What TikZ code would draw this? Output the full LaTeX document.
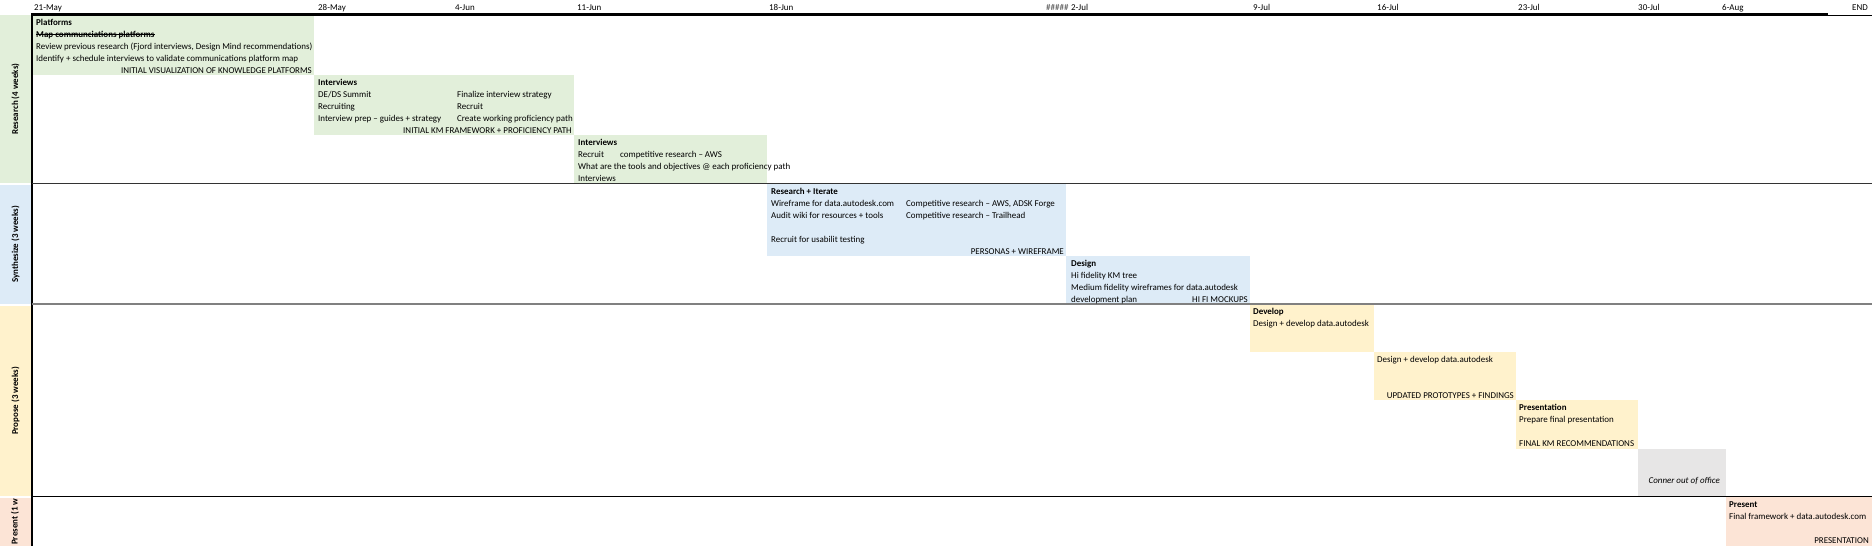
\documentclass[tikz,border=0pt]{standalone}
\usepackage{fontspec}
\setmainfont{Carlito}
\usepackage{xcolor}
\usepackage{tikz}
\usetikzlibrary{calc}
\usetikzlibrary{positioning}
\definecolor{resgreen}{HTML}{E2EFDA}
\definecolor{synblue}{HTML}{DDEBF7}
\definecolor{propyellow}{HTML}{FFF2CC}
\definecolor{presred}{HTML}{FCE4D6}
\definecolor{oofgray}{HTML}{E7E6E6}
\newcommand{\cellfont}{\fontsize{8.95}{10}\selectfont}
\begin{document}
\begin{tikzpicture}[x=1pt,y=-1pt,font=\cellfont]
 	\tikzstyle{task}=[anchor=north west,inner sep=0pt,outer sep=0pt]
 	\tikzstyle{lbl}=[inner sep=0pt,anchor=base west]
 	\tikzstyle{rlbl}=[inner sep=0pt,anchor=base east]
 	\tikzstyle{head}=[lbl,font=\cellfont\bfseries]
 	\tikzstyle{side}=[inner sep=0pt,rotate=90,font=\cellfont\bfseries]
 	\useasboundingbox (0,0) rectangle (1872,546);
 	% phase bands on the left
 	\node[task,fill=resgreen,minimum width=31,minimum height=168] (bres) at (0,15) {};
 	\node[task,fill=synblue,minimum width=31,minimum height=119] (bsyn) at (0,185) {};
 	\node[task,fill=propyellow,minimum width=31,minimum height=190] (bpro) at (0,306) {};
 	\node[task,fill=presred,minimum width=31,minimum height=49] (bpre) at (0,498) {};
 	\node[side] (lres) at (bres.center) {Research (4 weeks)};
 	\node[side] (lsyn) at (bsyn.center) {Synthesize (3 weeks)};
 	\node[side] (lpro) at (bpro.center) {Propose (3 weeks)};
 	\begin{scope}
 		\clip (0,498) rectangle (31,546);
 		\node[side,anchor=west] (lpre) at (15,545) {Present (1 week)};
 	\end{scope}
 	% task blocks
 	\node[task,fill=resgreen,minimum width=282,minimum height=60] (plat) at (32,15) {};
 	\node[task,fill=resgreen,minimum width=260,minimum height=60] (intA) at (314,75) {};
 	\node[task,fill=resgreen,minimum width=193,minimum height=48] (intB) at (574,135) {};
 	\node[task,fill=synblue,minimum width=299,minimum height=72] (resit) at (767,184) {};
 	\node[task,fill=synblue,minimum width=184,minimum height=47] (dsgn) at (1066,256) {};
 	\node[task,fill=propyellow,minimum width=124,minimum height=47] (devA) at (1250,305) {};
 	\node[task,fill=propyellow,minimum width=142,minimum height=48] (devB) at (1374,352) {};
 	\node[task,fill=propyellow,minimum width=122,minimum height=49] (prsn) at (1516,400) {};
 	\node[task,fill=oofgray,minimum width=88,minimum height=47] (oof) at (1638,449) {};
 	\node[task,fill=presred,minimum width=146,minimum height=49] (pres) at (1726,497) {};
 	% grid lines
 	\draw[line width=3pt] (32,14.5) -- (1828,14.5);
 	\draw[line width=1pt] (1828,15.5) -- (1872,15.5);
 	\draw[line width=1.3pt] (32,13) -- (32,546);
 	\draw[line width=1.3pt,black!80] (32,183.6) -- (1872,183.6);
 	\draw[line width=2.4pt,black!50] (32,304) -- (1872,304);
 	\draw[line width=1.4pt] (32,496.6) -- (1872,496.6);
 	% dates
 	\node[lbl] (d1) at (34,10) {21-May};
 	\node[lbl] (d2) at (318,10) {28-May};
 	\node[lbl] (d3) at (455,10) {4-Jun};
 	\node[lbl] (d4) at (577,10) {11-Jun};
 	\node[lbl] (d5) at (769,10) {18-Jun};
 	\node[lbl,text=black!70] (d6) at (1046,10) {\#\#\#\#\#};
 	\node[lbl] (d7) at (1071,10) {2-Jul};
 	\node[lbl] (d8) at (1253,10) {9-Jul};
 	\node[lbl] (d9) at (1377,10) {16-Jul};
 	\node[lbl] (d10) at (1518,10) {23-Jul};
 	\node[lbl] (d11) at (1638,10) {30-Jul};
 	\node[lbl] (d12) at (1722,10) {6-Aug};
 	\node[lbl] (d13) at (1852,10) {END};
 	% research
 	\node[head] (plat1) at (36,25) {Platforms};
 	\node[head] (plat2) at (36,37) {Map communciations platforms};
 	\draw[line width=0.6pt] ($(plat2.base west)+(0,-2.7)$) -- ($(plat2.base east)+(0,-2.7)$);
 	\node[lbl] (plat3) at (36,49) {Review previous research (Fjord interviews, Design Mind recommendations)};
 	\node[lbl] (plat4) at (36,61) {Identify + schedule interviews to validate communications platform map};
 	\node[rlbl] (plat5) at (312,73) {INITIAL VISUALIZATION OF KNOWLEDGE PLATFORMS};
 	\node[head] (inta1) at (318,85) {Interviews};
 	\node[lbl] (inta2) at (318,97) {DE/DS Summit};
 	\node[lbl] (inta3) at (457,97) {Finalize interview strategy};
 	\node[lbl] (inta4) at (318,109) {Recruiting};
 	\node[lbl] (inta5) at (457,109) {Recruit};
 	\node[lbl] (inta6) at (318,121) {Interview prep – guides + strategy};
 	\node[lbl] (inta7) at (457,121) {Create working proficiency path};
 	\node[rlbl] (inta8) at (572,133) {INITIAL KM FRAMEWORK + PROFICIENCY PATH};
 	\node[head] (intb1) at (578,145) {Interviews};
 	\node[lbl] (intb2) at (578,157) {Recruit};
 	\node[lbl] (intb3) at (620,157) {competitive research – AWS};
 	\node[lbl] (intb4) at (578,169) {What are the tools and objectives @ each proficiency path};
 	\node[lbl] (intb5) at (578,181) {Interviews};
 	% synthesize
 	\node[head] (resit1) at (771,194) {Research + Iterate};
 	\node[lbl] (resit2) at (771,206) {Wireframe for data.autodesk.com};
 	\node[lbl] (resit3) at (906,206) {Competitive research – AWS, ADSK Forge};
 	\node[lbl] (resit4) at (771,218) {Audit wiki for resources + tools};
 	\node[lbl] (resit5) at (906,218) {Competitive research – Trailhead};
 	\node[lbl] (resit6) at (771,242) {Recruit for usabilit testing};
 	\node[rlbl] (resit7) at (1064,254) {PERSONAS + WIREFRAME};
 	\node[head] (dsgn1) at (1071,266) {Design};
 	\node[lbl] (dsgn2) at (1071,278) {Hi fidelity KM tree};
 	\node[lbl] (dsgn3) at (1071,290) {Medium fidelity wireframes for data.autodesk};
 	\node[lbl] (dsgn4) at (1071,302) {development plan};
 	\node[rlbl] (dsgn5) at (1248,302) {HI FI MOCKUPS};
 	% propose
 	\node[head] (deva1) at (1253,314) {Develop};
 	\node[lbl] (deva2) at (1253,326) {Design + develop data.autodesk};
 	\node[lbl] (devb1) at (1377,362) {Design + develop data.autodesk};
 	\node[rlbl] (devb2) at (1514,398) {UPDATED PROTOTYPES + FINDINGS};
 	\node[head] (prsn1) at (1519,410) {Presentation};
 	\node[lbl] (prsn2) at (1519,422) {Prepare final presentation};
 	\node[lbl] (prsn3) at (1519,446) {FINAL KM RECOMMENDATIONS};
 	\node[rlbl,font=\cellfont\itshape] (oof1) at (1720,483) {Conner out of office};
 	% present
 	\node[head] (pres1) at (1729,507) {Present};
 	\node[lbl] (pres2) at (1729,519) {Final framework + data.autodesk.com};
 	\node[rlbl] (pres3) at (1869,543) {PRESENTATION};
\end{tikzpicture}
\end{document}
